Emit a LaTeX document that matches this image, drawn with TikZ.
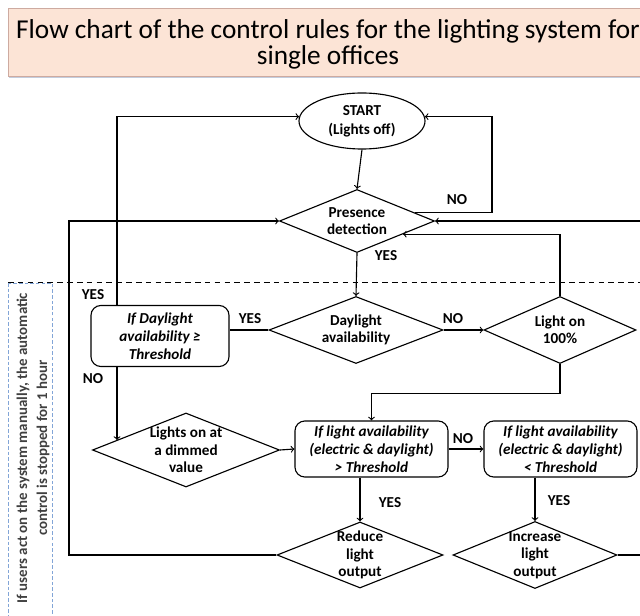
\documentclass[tikz,border=0pt]{standalone}
\usepackage{fontspec}
\setmainfont{Carlito}
\usepackage{tikz}
\usetikzlibrary{calc,arrows,shapes.geometric}

\definecolor{titlefill}{RGB}{252,228,214}
\definecolor{titledraw}{RGB}{205,170,160}
\definecolor{titleshade}{RGB}{195,205,222}
\definecolor{sidedraw}{RGB}{130,165,215}
\definecolor{sidetext}{RGB}{64,64,64}

\tikzset{
  dia/.style={draw, diamond, inner sep=0pt, line width=0.8pt},
  rbox/.style={draw, rectangle, rounded corners=7pt, inner sep=0pt, line width=0.8pt,
    align=center, font=\bfseries\itshape\fontsize{10.8}{12.8}\selectfont},
  txt/.style={align=center, inner sep=0pt, font=\bfseries\fontsize{10.8}{12.3}\selectfont},
  lbl/.style={inner sep=0pt, font=\bfseries\fontsize{10.8}{12}\selectfont},
  conn/.style={->, >=to, line width=0.8pt},
}

\begin{document}
\begin{tikzpicture}[x=0.025cm, y=-0.025cm]
      % picture size, same as the 640 x 616 reference
      \clip (0,0) rectangle (640,616);
      \fill[white] (0,0) rectangle (640,616);

      % title bar
      \fill[titleshade] (9,10) rectangle (660,78.5);
      \draw[titledraw, fill=titlefill, line width=0.6pt] (8,8) rectangle (660,76);
      \node[align=center, font=\fontsize{19.4}{18.5}\selectfont] (title) at (328,44)
        {Flow chart of the control rules for the lighting system for\\single offices};

      % dashed limit and the side note for manual use
      \draw[dashed, dash pattern=on 4pt off 3pt, line width=0.7pt] (8,282) -- (640,282);
      \draw[sidedraw, dash pattern=on 2.5pt off 1.5pt, line width=0.6pt] (8,283) rectangle (52,640);
      \node[rotate=90, align=center, text=sidetext, font=\bfseries\fontsize{10.6}{14.2}\selectfont] (note) at (33,448)
        {If users act on the system manually, the automatic\\control is stopped for 1 hour};

      % nodes of the flow chart
      \node[draw, ellipse, line width=0.8pt, minimum width=3.15cm, minimum height=1.4cm, inner sep=0pt,
        align=center, font=\bfseries\fontsize{10.8}{13.5}\selectfont] (start) at (362,121) {START\\(Lights off)};
      \node[dia, minimum width=3.875cm, minimum height=1.575cm,
        label={[txt]center:Presence\\detection}] (presence) at (357,221) {};
      \node[dia, minimum width=4.35cm, minimum height=1.675cm,
        label={[txt]center:Daylight\\availability}] (daylight) at (356,330) {};
      \node[dia, minimum width=3.8cm, minimum height=1.675cm,
        label={[txt]center:Light on\\100\%}] (lighton) at (560,330) {};
      \node[rbox, minimum width=3.45cm, minimum height=1.525cm] (ifday) at (160,336)
        {If Daylight\\availability ≥\\Threshold};
      \node[dia, minimum width=4.675cm, minimum height=1.85cm,
        label={[txt]center:Lights on at\\a dimmed\\value}] (dimmed) at (186,450) {};
      \node[rbox, minimum width=3.825cm, minimum height=1.4cm] (thrhi) at (371.5,449)
        {If light availability\\(electric \& daylight)\\> Threshold};
      \node[rbox, minimum width=3.825cm, minimum height=1.4cm] (thrlo) at (560.5,449)
        {If light availability\\(electric \& daylight)\\< Threshold};
      \node[dia, minimum width=4.15cm, minimum height=1.65cm,
        label={[txt]center:Reduce\\light\\output}] (reduce) at (360,555) {};
      \node[dia, minimum width=4.1cm, minimum height=1.675cm,
        label={[txt]center:Increase\\light\\output}] (increase) at (535,555) {};

      % corners of the long return lines
      \coordinate (nocorner) at (492,117);
      \coordinate (yesup) at (117,117);
      \coordinate (dimin) at (117,440);
      \coordinate (leftup) at (69,221);
      \coordinate (rightup) at (648,221);

      % connectors
      \draw[conn] (start.south) -- (presence.north);
      \draw[conn] (presence.8) -| (nocorner) |- (start.4);
      \draw[conn] (presence.south) -- (daylight.north);
      \draw[line width=0.8pt] (daylight.west) -- (daylight.west -| ifday.east);
      \draw[conn] (daylight.east) -- (lighton.west);
      \draw[conn] (lighton.north) |- (presence.-16);
      \draw[conn] (lighton.south) -- ++(0,29) -| (thrhi.north);
      \draw[conn] (ifday.north -| yesup) |- (start.176);
      \draw[conn] (ifday.south -| yesup) -- (dimin);
      \draw[conn] (dimmed.east) -- (thrhi.west);
      \draw[conn] (thrhi.east) -- (thrlo.west);
      \draw[conn] (thrhi.south -| reduce.north) -- (reduce.north);
      \draw[conn] (thrlo.south -| increase.north) -- (increase.north);
      \draw[conn] (reduce.west) -| (leftup) -- (presence.west);
      \draw[conn] (increase.east) -| (rightup) -- (presence.east);

      % branch labels
      \node[lbl] (no1) at (457,200) {NO};
      \node[lbl] (yes1) at (386,256) {YES};
      \node[lbl] (yes2) at (93,295) {YES};
      \node[lbl] (no2) at (93,379) {NO};
      \node[lbl] (yes3) at (250,319) {YES};
      \node[lbl] (no3) at (453,319) {NO};
      \node[lbl] (no4) at (463,439) {NO};
      \node[lbl] (yes4) at (390,503) {YES};
      \node[lbl] (yes5) at (559,501) {YES};
    \end{tikzpicture}
\end{document}
